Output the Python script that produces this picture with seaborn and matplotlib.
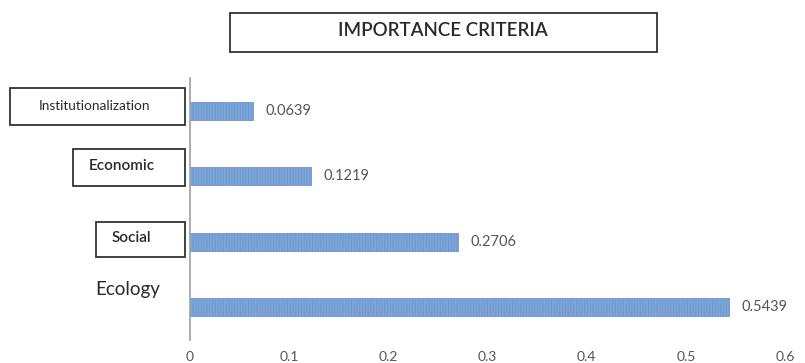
import matplotlib
matplotlib.use("Agg")
import matplotlib.pyplot as plt
import seaborn as sns
import pandas as pd
from matplotlib.patches import Rectangle

categories = ["Institutionalization", "Economic", "Social", "Ecology"]
values = [0.0639, 0.1219, 0.2706, 0.5439]
value_labels = ["0.0639", "0.1219", "0.2706", "0.5439"]
xticks = [0, 0.1, 0.2, 0.3, 0.4, 0.5, 0.6]
xtick_labels = ["0", "0.1", "0.2", "0.3", "0.4", "0.5", "0.6"]
title = "IMPORTANCE CRITERIA"

sns.set_theme(style="white")
plt.rcParams['font.family'] = ['Lato', 'DejaVu Sans']
plt.rcParams['hatch.color'] = '#a9c4e8'
plt.rcParams['hatch.linewidth'] = 0.6

df = pd.DataFrame({"cat": categories, "val": values})

W, H = 805, 363
fig = plt.figure(figsize=(8.05, 3.63), dpi=100)
ax = fig.add_axes([190 / W, 1 - 340 / H, (785 - 190) / W, (340 - 78) / H])

sns.barplot(data=df, x="val", y="cat", orient="h", color="#7ea6d8",
            width=0.27, ax=ax, saturation=1)
for p in ax.patches:
    p.set_hatch('||||||')
    p.set_edgecolor('#6b95cf')
    p.set_linewidth(0.6)

ax.set_xlim(0, 0.6)
ax.set_ylim(3.5, -0.5)
ax.set_xticks(xticks)
ax.set_xticklabels(xtick_labels, fontsize=10, color="#555555")
ax.tick_params(axis='x', length=0, pad=8)
ax.set_yticks([])
ax.set_xlabel("")
ax.set_ylabel("")
for s in ["top", "right", "bottom"]:
    ax.spines[s].set_visible(False)
ax.spines["left"].set_color("#a0a0a0")
ax.spines["left"].set_linewidth(1.2)

for i, (v, lab) in enumerate(zip(values, value_labels)):
    ax.annotate(lab, xy=(v, i), xytext=(9, 0), textcoords="offset points",
                va="center", ha="left", fontsize=10.5, color="#555555")

# category label boxes (figure-pixel positions)
boxes = {
    "Institutionalization": (10, 88, 185, 125),
    "Economic": (73, 149, 185, 186),
    "Social": (96, 222, 185, 257),
}
text_x = {"Institutionalization": 94, "Economic": 122, "Social": 131, "Ecology": 128}
text_y = {"Institutionalization": 106, "Economic": 166, "Social": 238, "Ecology": 290}
text_fs = {"Institutionalization": 9.8, "Economic": 11, "Social": 11, "Ecology": 13.5}
for cat in categories:
    if cat in boxes:
        x0, y0, x1, y1 = boxes[cat]
        fig.patches.append(Rectangle((x0 / W, 1 - y1 / H), (x1 - x0) / W, (y1 - y0) / H,
                                     transform=fig.transFigure, fill=False,
                                     edgecolor="#333333", linewidth=1.3))
    fig.text(text_x[cat] / W, 1 - text_y[cat] / H, cat, ha="center", va="center",
             fontsize=text_fs[cat], color="#2a2a2a",
             fontweight="normal" if cat in ("Institutionalization", "Ecology") else "semibold")

# title box
fig.patches.append(Rectangle((230 / W, 1 - 52 / H), (657 - 230) / W, (52 - 13) / H,
                             transform=fig.transFigure, fill=False,
                             edgecolor="#333333", linewidth=1.3))
fig.text(443 / W, 1 - 31 / H, title, ha="center", va="center", fontsize=13.5,
         color="#2a2a2a", fontweight="semibold")

fig.savefig("out.png", dpi=100)
